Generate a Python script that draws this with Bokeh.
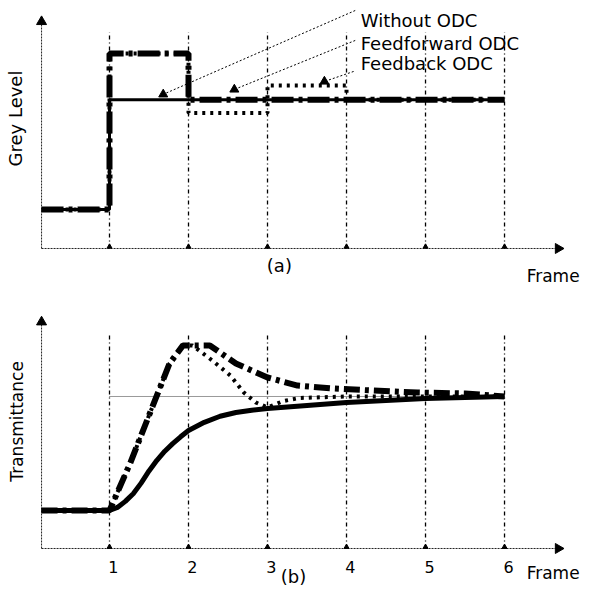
from math import pi
from bokeh.plotting import figure
from bokeh.models import Range1d
from bokeh.core.properties import value
from bokeh.embed import file_html
from bokeh.resources import INLINE

# ---------------- data ----------------
X0 = 0.14                      # origin of the drawn axes (frame units)
frames = [1, 2, 3, 4, 5, 6]
frame_labels = ["1", "2", "3", "4", "5", "6"]

# (a) grey level per frame (held until next frame)
step_x = [X0, 1, 2, 3, 4, 5, 6]
grey_without = [44, 168, 168, 168, 168, 168, 168]
grey_feedforward = [44, 220, 168, 168, 168, 168, 168]
grey_feedback = [44, 220, 153, 184, 168, 168, 168]

# (b) transmittance (target = 1.0)
t_without = [X0, 1.0, 1.1, 1.2, 1.3, 1.4, 1.5, 1.6, 1.7, 1.8, 1.9, 2.0, 2.2, 2.4, 2.6, 2.8,
             3.0, 3.5, 4.0, 5.0, 6.0]
tr_without = [0.25, 0.25, 0.27, 0.31, 0.36, 0.43, 0.51, 0.58, 0.64, 0.69, 0.735, 0.776, 0.83,
              0.87, 0.895, 0.91, 0.921, 0.941, 0.96, 0.987, 1.0]

t_feedforward = [X0, 1.0, 1.26, 1.6, 1.76, 1.93, 2.27, 2.6, 3.0, 3.38, 3.82, 4.3, 4.9, 5.5, 6.0]
tr_feedforward = [0.25, 0.25, 0.559, 1.007, 1.217, 1.336, 1.336, 1.217, 1.125, 1.072, 1.053,
                  1.04, 1.026, 1.02, 1.0]

t_feedback = [X0, 1.0, 1.26, 1.6, 1.76, 1.93, 2.05, 2.3, 2.53, 2.7, 2.85, 3.0, 3.2, 3.4, 4.0,
              5.0, 6.0]
tr_feedback = [0.25, 0.25, 0.559, 1.007, 1.217, 1.336, 1.336, 1.237, 1.138, 1.026, 0.961, 0.928,
               0.97, 0.99, 1.0, 1.0, 1.0]
target_tr = 1.0

legend_names = ["Without ODC", "Feedforward ODC", "Feedback ODC"]

# ---------------- layout constants ----------------
FONT = value("DejaVu Sans")
X_END = 6.68
G_TOP, G_LINE_TOP = 256, 244          # panel (a) axis tip, frame-line top
T_TOP, T_LINE_TOP = 1.49, 1.42        # panel (b)

p = figure(width=582, height=586, output_backend="svg", toolbar_location=None,
           x_range=Range1d(-0.3797, 6.987), y_range=Range1d(-381.5, 279.9),
           min_border=0, outline_line_color=None)
p.extra_y_ranges = {"b": Range1d(-0.25, 3.605)}
p.xaxis.visible = False
p.yaxis.visible = False
p.grid.visible = False
p.background_fill_color = "white"
p.border_fill_color = "white"

# ---------- panel (a) ----------
p.segment(x0=frames, y0=[0] * 6, x1=frames, y1=[G_LINE_TOP] * 6,
          line_color="black", line_width=1.3, line_dash="4 3 1 3")
p.segment(x0=[X0, X0], y0=[0, 0], x1=[X_END, X0], y1=[0, G_TOP],
          line_color="#222222", line_width=1, line_dash="2 1")
p.scatter(x=[X0], y=[G_TOP], marker="triangle", size=10, color="black")
p.scatter(x=[X_END], y=[0], marker="triangle", size=10, color="black", angle=-pi / 2)
p.scatter(x=frames, y=[2] * 6, marker="triangle", size=5, color="black")

p.step(step_x, grey_without, mode="after", line_color="black", line_width=3)
p.step(step_x, grey_feedforward, mode="after", line_color="black", line_width=6,
       line_dash="22 5 4 5")
p.step(step_x, grey_feedback, mode="after", line_color="black", line_width=4,
       line_dash="3 5")

# legend leaders
lead_x0 = [4.11, 4.11, 4.09]
lead_y0 = [268.6, 234.8, 199.8]
lead_x1 = [1.68, 2.58, 3.72]
lead_y1 = [174.0, 179.5, 188.5]
p.segment(x0=lead_x0, y0=lead_y0, x1=lead_x1, y1=lead_y1,
          line_color="black", line_width=1, line_dash="2 2")
p.scatter(x=lead_x1, y=lead_y1, marker="triangle", size=9, color="black")
p.text(x=[4.18] * 3, y=[257, 231, 209], text=legend_names, text_font=FONT,
       text_font_size="18px", text_baseline="middle", text_align="left", text_color="black")

p.text(x=[-0.19], y=[146.7], text=["Grey Level"], angle=pi / 2, text_font=FONT,
       text_font_size="18px", text_align="center", text_baseline="middle", text_color="black")
p.text(x=[6.28], y=[-31.6], text=["Frame"], text_font=FONT, text_font_size="17px",
       text_align="left", text_baseline="middle", text_color="black")
p.text(x=[3.15], y=[-19], text=["(a)"], text_font=FONT, text_font_size="18px",
       text_align="center", text_baseline="middle", text_color="black")

# ---------- panel (b) ----------
p.segment(x0=frames, y0=[0] * 6, x1=frames, y1=[T_LINE_TOP] * 6, y_range_name="b",
          line_color="black", line_width=1.3, line_dash="4 3 1 3")
p.segment(x0=[1], y0=[target_tr], x1=[6], y1=[target_tr], y_range_name="b",
          line_color="#333333", line_width=1, line_dash="1 1")
p.segment(x0=[X0, X0], y0=[0, 0], x1=[X_END, X0], y1=[0, T_TOP], y_range_name="b",
          line_color="#222222", line_width=1, line_dash="2 1")
p.scatter(x=[X0], y=[T_TOP], marker="triangle", size=10, color="black", y_range_name="b")
p.scatter(x=[X_END], y=[0], marker="triangle", size=10, color="black", angle=-pi / 2,
          y_range_name="b")
p.scatter(x=frames, y=[0.01] * 6, marker="triangle", size=5, color="black", y_range_name="b")

p.line(t_without, tr_without, y_range_name="b", line_color="black", line_width=5,
       line_join="round")
p.line(t_feedforward, tr_feedforward, y_range_name="b", line_color="black", line_width=6,
       line_dash="16 5 4 5")
p.line(t_feedback, tr_feedback, y_range_name="b", line_color="black", line_width=4,
       line_dash="3 5")

p.text(x=[f + 0.05 for f in frames], y=[-0.125] * 6, text=frame_labels, y_range_name="b",
       text_font=FONT, text_font_size="16px", text_align="center", text_baseline="middle",
       text_color="black")
p.text(x=[6.28], y=[-0.158], text=["Frame"], y_range_name="b", text_font=FONT,
       text_font_size="17px", text_align="left", text_baseline="middle", text_color="black")
p.text(x=[3.33], y=[-0.184], text=["(b)"], y_range_name="b", text_font=FONT,
       text_font_size="18px", text_align="center", text_baseline="middle", text_color="black")
p.text(x=[-0.165], y=[0.836], text=["Transmittance"], y_range_name="b", angle=pi / 2,
       text_font=FONT, text_font_size="17px", text_align="center", text_baseline="middle",
       text_color="black")

open("out.html", "w").write(file_html(p, INLINE))
